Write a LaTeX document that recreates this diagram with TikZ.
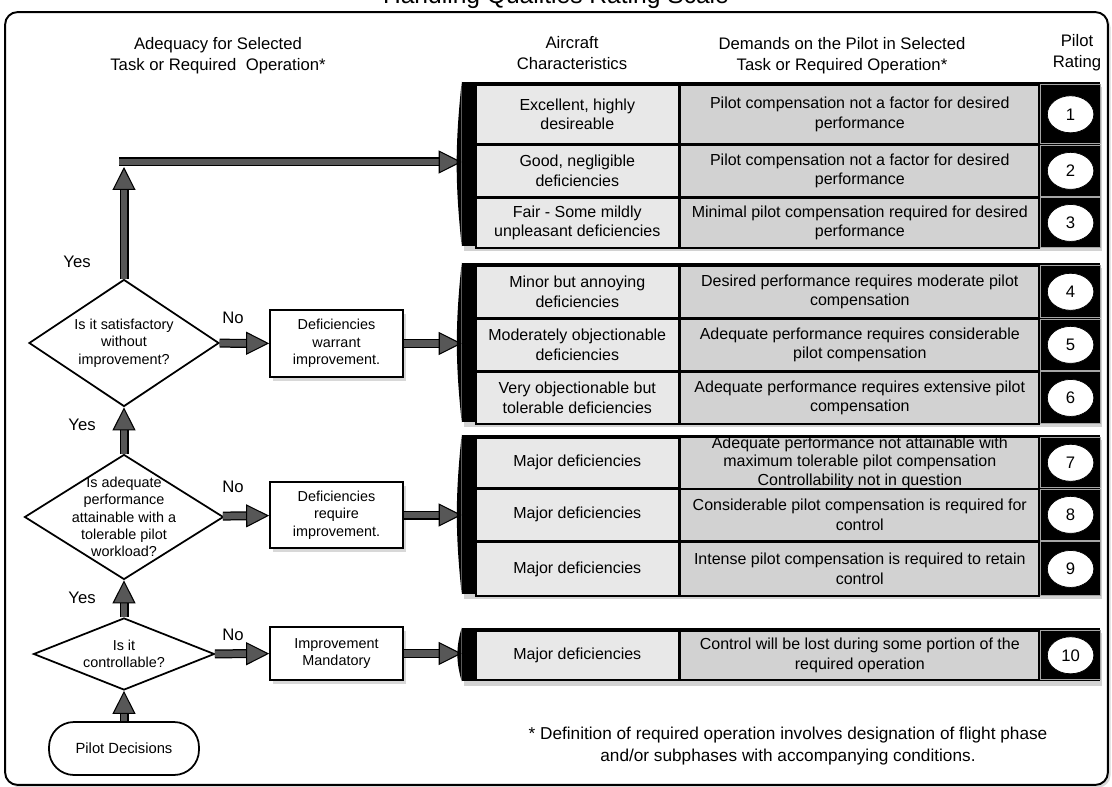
\documentclass[tikz,border=0pt]{standalone}
\usepackage{fontspec}
\setmainfont{Liberation Sans}
\usetikzlibrary{arrows.meta, positioning, shapes.geometric, shadows}
\definecolor{hqgrey}{HTML}{575757}
\definecolor{charfill}{HTML}{E8E8E8}
\definecolor{demandfill}{HTML}{D2D2D2}

\begin{document}
\begin{tikzpicture}[x=0.02cm, y=-0.02cm,
    node distance=0pt,
    panel/.style={draw=black, line width=1.1pt, fill=white, rounded corners=0.25cm, drop shadow={shadow xshift=1.5pt, shadow yshift=-1.5pt, opacity=0.3}},
    decision/.style={diamond, draw=black, line width=1pt, fill=white, inner sep=0pt},
    dtext/.style={align=center, font=\fontsize{8.2}{9.9}\selectfont},
    actionbox/.style={draw=black, line width=1pt, fill=white, minimum width=2.66cm, align=center, font=\fontsize{8.2}{9.9}\selectfont, drop shadow={shadow xshift=1.5pt, shadow yshift=-2.5pt, opacity=0.3}},
    startbox/.style={draw=black, line width=1pt, fill=white, rounded corners=0.5cm, minimum width=3cm, minimum height=1.06cm, font=\fontsize{8.4}{10}\selectfont},
    ratinggroup/.style={fill=black, minimum width=12.76cm, inner sep=0pt, drop shadow={shadow xshift=1pt, shadow yshift=-3pt, opacity=0.35}},
    charcell/.style={draw=black, line width=0.9pt, fill=charfill, minimum width=4.06cm, inner sep=0pt, align=center, font=\fontsize{9.1}{11}\selectfont},
    demandcell/.style={draw=black, line width=0.9pt, fill=demandfill, minimum width=7.18cm, inner sep=0pt, align=center, font=\fontsize{9.1}{11}\selectfont},
    ratecell/.style={draw=gray!70, line width=0.6pt, fill=black, minimum width=1.2cm, inner sep=0pt},
    ratenum/.style={ellipse, fill=white, draw=black, minimum width=0.93cm, minimum height=0.74cm, inner sep=0pt, font=\fontsize{9.5}{11}\selectfont},
    flowarrow/.style={draw=hqgrey, line width=0.13cm,
      -{Triangle[length=0.46cm, width=0.46cm, color=black, fill=hqgrey, line width=0.6pt]},
      preaction={draw=black, line width=0.18cm, -, shorten >=0.44cm}},
    answer/.style={font=\fontsize{9.5}{11}\selectfont},
    colhead/.style={align=center, font=\fontsize{9.5}{12}\selectfont}
  ]
  \useasboundingbox (0,0) rectangle (1112,787);

  \node[font=\fontsize{14}{16}\selectfont, anchor=base] (title) at (556,4) {Handling Qualities Rating Scale};
  \node[panel, minimum width=22.06cm, minimum height=15.46cm] (frame) at (556.5,398.5) {};

  % column headings
  \node[colhead] (hdadeq) at (218,56) {Adequacy for Selected\\Task or Required~~Operation*};
  \node[colhead] (hdchar) at (572,53) {Aircraft\\Characteristics};
  \node[colhead] (hddemand) at (842,56) {Demands on the Pilot in Selected\\Task or Required Operation*};
  \node[colhead] (hdrating) at (1077,53) {Pilot\\Rating};

  % decision flow
  \node[startbox] (pilot) at (124,748.5) {Pilot Decisions};
  \node[decision, minimum width=3.62cm, minimum height=1.44cm] (ctrl) at (124,654) {};
  \node[dtext] at (ctrl) {Is it\\controllable?};
  \node[decision, minimum width=3.98cm, minimum height=2.5cm] (adeq) at (124,517) {};
  \node[dtext] at (adeq) {Is adequate\\performance\\attainable with a\\tolerable pilot\\workload?};
  \node[decision, minimum width=3.8cm, minimum height=2.54cm] (sat) at (124,343) {};
  \node[dtext] at (sat) {Is it satisfactory\\without\\improvement?};

  \node[actionbox, minimum height=1.34cm] (warrant) at (336.5,343.5) {Deficiencies\\warrant\\improvement.};
  \node[actionbox, minimum height=1.32cm] (require) at (336.5,515) {Deficiencies\\require\\improvement.};
  \node[actionbox, minimum height=1.06cm] (mandatory) at (336.5,653.5) {Improvement\\Mandatory};

  \node[answer] (yes1) at (77,262) {Yes};
  \node[answer] (yes2) at (82,425) {Yes};
  \node[answer] (yes3) at (82,598) {Yes};
  \node[answer] (no1) at (233,318) {No};
  \node[answer] (no2) at (233,487) {No};
  \node[answer] (no3) at (233,635) {No};

  % rating groups
  \node[ratinggroup, minimum height=3.28cm] (grpA) at (781,164) {};
  \node[ratinggroup, minimum height=3.18cm] (grpB) at (781,342.5) {};
  \node[ratinggroup, minimum height=3.18cm] (grpC) at (781,514.5) {};
  \node[ratinggroup, minimum height=1.06cm] (grpD) at (781,654.5) {};

  \node[charcell, minimum height=1.18cm, anchor=north west] (char1) at (475,84) {Excellent, highly\\desireable};
  \node[demandcell, minimum height=1.18cm, right=of char1] (dem1) {Pilot compensation not a factor for desired\\performance};
  \node[ratecell, minimum height=1.18cm, right=of dem1] (rate1) {};
  \node[charcell, minimum height=1.02cm, below=of char1] (char2) {Good, negligible\\deficiencies};
  \node[demandcell, minimum height=1.02cm, right=of char2] (dem2) {Pilot compensation not a factor for desired\\performance};
  \node[ratecell, minimum height=1.02cm, right=of dem2] (rate2) {};
  \node[charcell, minimum height=1cm, below=of char2] (char3) {Fair - Some mildly\\unpleasant deficiencies};
  \node[demandcell, minimum height=1cm, right=of char3] (dem3) {Minimal pilot compensation required for desired\\performance};
  \node[ratecell, minimum height=1cm, right=of dem3] (rate3) {};

  \node[charcell, minimum height=1.04cm, anchor=north west] (char4) at (475,265) {Minor but annoying\\deficiencies};
  \node[demandcell, minimum height=1.04cm, right=of char4] (dem4) {Desired performance requires moderate pilot\\compensation};
  \node[ratecell, minimum height=1.04cm, right=of dem4] (rate4) {};
  \node[charcell, minimum height=1.02cm, below=of char4] (char5) {Moderately objectionable\\deficiencies};
  \node[demandcell, minimum height=1.02cm, right=of char5] (dem5) {Adequate performance requires considerable\\pilot compensation};
  \node[ratecell, minimum height=1.02cm, right=of dem5] (rate5) {};
  \node[charcell, minimum height=1.04cm, below=of char5] (char6) {Very objectionable but\\tolerable deficiencies};
  \node[demandcell, minimum height=1.04cm, right=of char6] (dem6) {Adequate performance requires extensive pilot\\compensation};
  \node[ratecell, minimum height=1.04cm, right=of dem6] (rate6) {};

  \node[charcell, minimum height=1cm, anchor=north west] (char7) at (475,437) {Major deficiencies};
  \node[demandcell, minimum height=1cm, right=of char7, font=\fontsize{9.1}{10.4}\selectfont] (dem7) {Adequate performance not attainable with\\maximum tolerable pilot compensation\\Controllability not in question};
  \node[ratecell, minimum height=1cm, right=of dem7] (rate7) {};
  \node[charcell, minimum height=1.02cm, below=of char7] (char8) {Major deficiencies};
  \node[demandcell, minimum height=1.02cm, right=of char8] (dem8) {Considerable pilot compensation is required for\\control};
  \node[ratecell, minimum height=1.02cm, right=of dem8] (rate8) {};
  \node[charcell, minimum height=1.08cm, below=of char8] (char9) {Major deficiencies};
  \node[demandcell, minimum height=1.08cm, right=of char9] (dem9) {Intense pilot compensation is required to retain\\control};
  \node[ratecell, minimum height=1.08cm, right=of dem9] (rate9) {};

  \node[charcell, minimum height=0.98cm, anchor=north west] (char10) at (475,630) {Major deficiencies};
  \node[demandcell, minimum height=0.98cm, right=of char10] (dem10) {Control will be lost during some portion of the\\required operation};
  \node[ratecell, minimum height=0.98cm, right=of dem10] (rate10) {};

  \node[ratenum] (num1) at (rate1) {1};
  \node[ratenum] (num2) at (rate2) {2};
  \node[ratenum] (num3) at (rate3) {3};
  \node[ratenum] (num4) at (rate4) {4};
  \node[ratenum] (num5) at (rate5) {5};
  \node[ratenum] (num6) at (rate6) {6};
  \node[ratenum] (num7) at (rate7) {7};
  \node[ratenum] (num8) at (rate8) {8};
  \node[ratenum] (num9) at (rate9) {9};
  \node[ratenum] (num10) at (rate10) {10};

  \node[font=\fontsize{9.8}{12}\selectfont, align=center] (note) at (788,746) {* Definition of required operation involves designation of flight phase\\and/or subphases with accompanying conditions.};

  % connectors
  \coordinate (turn) at (124,167);
  \coordinate (turnL) at (119,162);
  \draw[flowarrow] (pilot) -- (ctrl);
  \draw[flowarrow] (ctrl) -- (adeq);
  \draw[flowarrow] (adeq) -- (sat);
  \draw[flowarrow] (sat) -- (turn);
  \draw[flowarrow] (turnL) -- (turnL -| grpA.west);
  \draw[flowarrow] (sat) -- (warrant);
  \draw[flowarrow] (adeq) -- (require);
  \draw[flowarrow] (ctrl) -- (mandatory);
  \draw[flowarrow] (warrant) -- (warrant -| grpB.west);
  \draw[flowarrow] (require) -- (require -| grpC.west);
  \draw[flowarrow] (mandatory) -- (mandatory -| grpD.west);

  % curved left edges
  \fill (grpA.north west) to[bend right=6] (grpA.south west) -- cycle;
  \fill (grpB.north west) to[bend right=6] (grpB.south west) -- cycle;
  \fill (grpC.north west) to[bend right=6] (grpC.south west) -- cycle;
  \fill (grpD.north west) to[bend right=16] (grpD.south west) -- cycle;
\end{tikzpicture}
\end{document}
